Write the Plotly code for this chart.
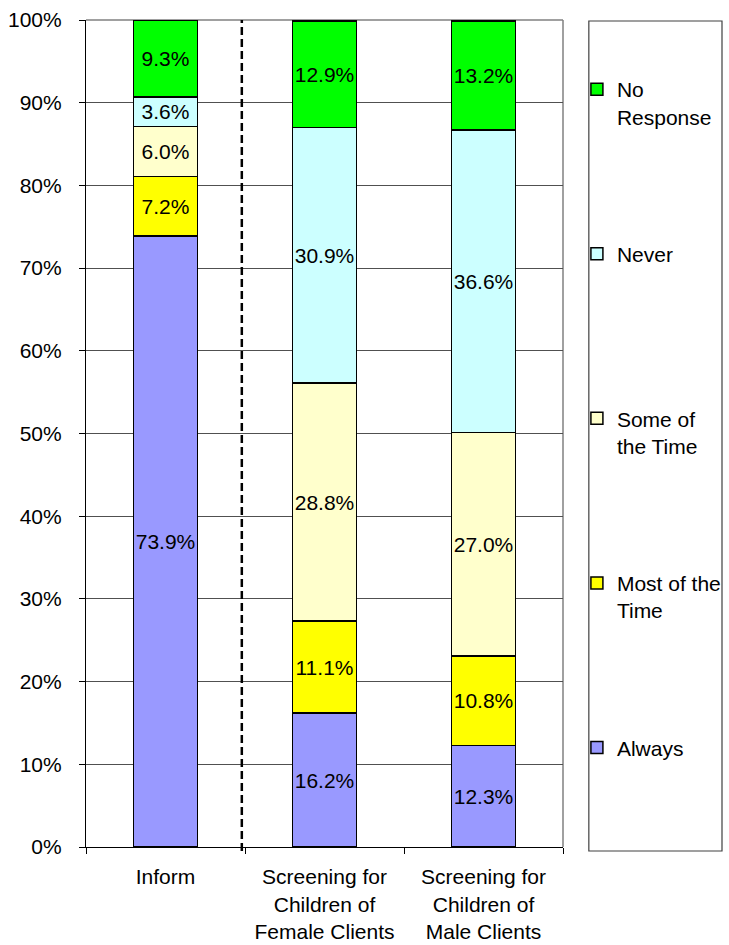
import plotly.graph_objects as go

categories = ["Inform", "Screening for<br>Children of<br>Female Clients", "Screening for<br>Children of<br>Male Clients"]
series_names = ["Always", "Most of the Time", "Some of the Time", "Never", "No Response"]
legend_labels = ["Always<br>\u00a0", "Most of the<br>Time", "Some of<br>the Time", "Never<br>\u00a0", "No<br>Response"]
always = [73.9, 16.2, 12.3]
most = [7.2, 11.1, 10.8]
some = [6.0, 28.8, 27.0]
never = [3.6, 30.9, 36.6]
no_response = [9.3, 12.9, 13.2]
colors = ["#9999FF", "#FFFF00", "#FFFFCC", "#CCFFFF", "#00FF00"]
y_ticks = [0, 10, 20, 30, 40, 50, 60, 70, 80, 90, 100]

FONT = "Liberation Sans, Arial, sans-serif"
FS = 21

W, H = 729, 945
# plot area in page pixels
L, R, T, B = 86, 566, 20, 847
ML = L
MT = T
MB = H - B
MR = 3
pw = W - ML - MR
ph = B - T


def px_x(x):
    return (x - L) / pw


def px_y(y):
    return (B - y) / ph


fig = go.Figure()
for i, (vals, lab) in enumerate(zip([always, most, some, never, no_response], legend_labels)):
    fig.add_trace(go.Bar(
        x=categories, y=vals, name=lab, legendgroup=series_names[i],
        legendrank=100 - i,
        marker=dict(color=colors[i], line=dict(color="black", width=1.5)),
        text=[f"{v:.1f}%" for v in vals], textposition="inside",
        insidetextanchor="middle", textangle=0,
        textfont=dict(family=FONT, size=FS, color="black"),
        width=0.4, hoverinfo="skip",
    ))

shapes = [
    # top and right frame in gray
    dict(type="line", xref="paper", yref="paper", x0=px_x(L), x1=px_x(R), y0=1, y1=1,
         line=dict(color="#808080", width=1.5), layer="below"),
    dict(type="line", xref="paper", yref="paper", x0=px_x(R), x1=px_x(R), y0=0, y1=1,
         line=dict(color="#808080", width=1.5), layer="below"),
    # dashed separator
    dict(type="line", xref="x", yref="paper", x0=0.48, x1=0.48, y0=px_y(851), y1=1,
         line=dict(color="black", width=2.5, dash="8px,4px"), layer="above"),
    # legend box
    dict(type="rect", xref="paper", yref="paper", x0=px_x(592), x1=px_x(726),
         y0=px_y(851), y1=px_y(21), line=dict(color="#404040", width=1.2),
         fillcolor="rgba(0,0,0,0)"),
]

fig.update_layout(
    width=W, height=H,
    margin=dict(l=ML, r=MR, t=MT, b=MB, pad=0),
    paper_bgcolor="white", plot_bgcolor="white",
    barmode="stack", bargap=0.6,
    font=dict(family=FONT, size=FS, color="black"),
    uniformtext=dict(minsize=FS, mode="show"),
    showlegend=True,
    legend=dict(x=px_x(580), xanchor="left", y=px_y(69), yanchor="top",
                traceorder="grouped", tracegroupgap=107,
                valign="top", bgcolor="rgba(0,0,0,0)", borderwidth=0,
                font=dict(family=FONT, size=FS, color="black")),
    shapes=shapes,
    xaxis=dict(type="category", domain=[0, px_x(R)], anchor="y",
               showline=True, linecolor="black", linewidth=1.2,
               ticks="outside", tickson="boundaries", ticklen=6, tickcolor="black",
               tickwidth=1.2, showgrid=False, tickfont=dict(family=FONT, size=FS),
               ticklabelstandoff=11, range=[-0.5, 2.5]),
    yaxis=dict(range=[0, 100], tickvals=y_ticks, ticktext=[f"{v}%" for v in y_ticks],
               showline=True, linecolor="black", linewidth=1.2,
               ticks="outside", ticklen=6, tickcolor="black", tickwidth=1.2,
               showgrid=True, gridcolor="#505050", gridwidth=1, zeroline=False,
               ticklabelstandoff=13, tickfont=dict(family=FONT, size=FS)),
)

fig.write_html("out.html", config={"displayModeBar": False},
               post_script="document.body.style.margin='0';document.body.style.overflow='hidden';")
